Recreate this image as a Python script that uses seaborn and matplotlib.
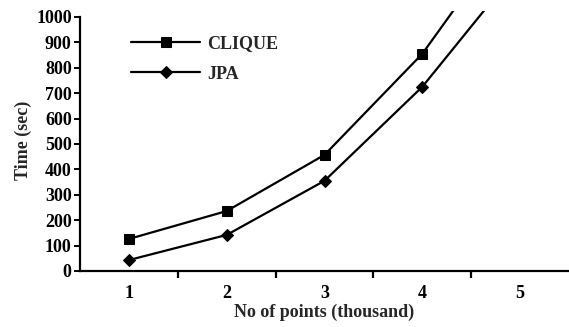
import numpy as np
import pandas as pd
import matplotlib
matplotlib.use("Agg")
import matplotlib.pyplot as plt
from matplotlib.ticker import FixedLocator
import seaborn as sns

# data (time in seconds, points in thousands)
points = [1, 2, 3, 4, 5]
clique = [126, 236, 457, 855, 1390]
jpa = [43, 142, 355, 725, 1200]
series_names = ["CLIQUE", "JPA"]

df = pd.DataFrame({
    "points": points * 2,
    "time": clique + jpa,
    "method": [series_names[0]] * len(points) + [series_names[1]] * len(points),
})

sns.set_theme(style="white")
plt.rcParams["font.family"] = ["Liberation Serif", "DejaVu Serif"]
plt.rcParams["font.weight"] = "bold"

fs = 13

fig = plt.figure(figsize=(5.69, 3.27), dpi=100)
ax = fig.add_axes([0.1406, 0.1713, 0.8594, 0.7963])

sns.lineplot(
    data=df, x="points", y="time", style="method", hue="method",
    palette={"CLIQUE": "black", "JPA": "black"},
    markers={"CLIQUE": "s", "JPA": "D"}, dashes=False,
    markersize=6.5, linewidth=1.6, markeredgecolor="black",
    ax=ax,
)

ax.set_xlim(0.5, 5.5)
ax.set_ylim(0, 1025)
ax.spines["left"].set_bounds(0, 1000)
ax.spines["top"].set_visible(False)
ax.spines["right"].set_visible(False)
for s in ("left", "bottom"):
    ax.spines[s].set_color("black")
    ax.spines[s].set_linewidth(1.6)

ax.set_yticks(np.arange(0, 1001, 100))
ax.set_xticks(points)
ax.xaxis.set_minor_locator(FixedLocator([1.5, 2.5, 3.5, 4.5]))
ax.tick_params(axis="x", which="major", length=0, pad=10, labelsize=fs, colors="black")
ax.tick_params(axis="x", which="minor", length=5, width=1.6, direction="out",
               bottom=True, color="black")
ax.tick_params(axis="y", length=4, width=1.4, direction="out", left=True,
               labelsize=fs, colors="black", pad=2)
for lab in ax.get_xticklabels() + ax.get_yticklabels():
    lab.set_fontweight("bold")

ax.set_xlabel("No of points (thousand)", fontsize=fs, fontweight="bold", labelpad=1)
ax.set_ylabel("Time (sec)", fontsize=fs, fontweight="bold", labelpad=3)

ax.legend(loc="upper left", bbox_to_anchor=(0.0716, 0.968), frameon=False,
          handlelength=3.8, labelspacing=0.75, handletextpad=0.4, borderpad=0.4,
          prop={"weight": "bold", "size": fs})

fig.savefig("out.png", dpi=100)
